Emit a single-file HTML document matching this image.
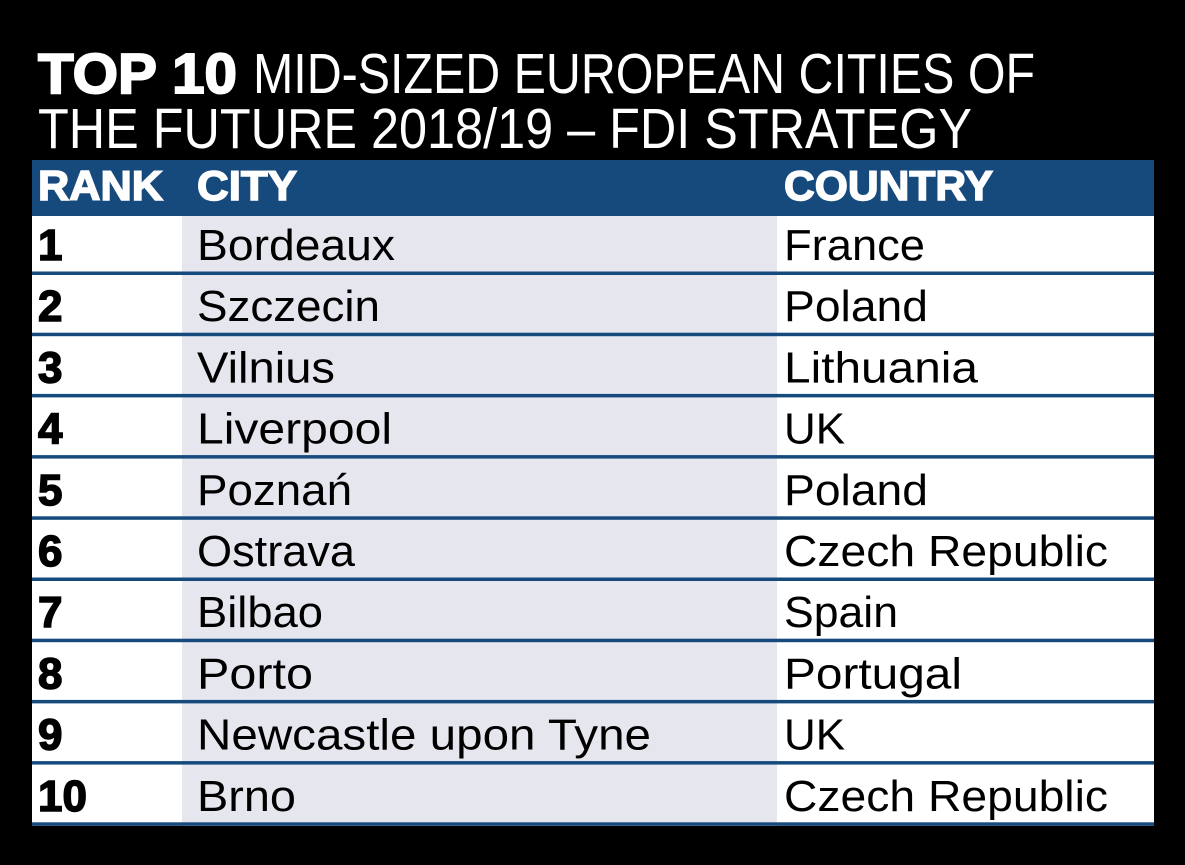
<!DOCTYPE html>
<html><head><meta charset="utf-8"><style>
html,body{margin:0;padding:0;background:#000;width:1185px;height:865px;overflow:hidden}
svg text{font-family:"Liberation Sans",sans-serif}
</style></head><body>
<svg width="1185" height="865" viewBox="0 0 1185 865" xmlns="http://www.w3.org/2000/svg">
<rect width="1185" height="865" fill="#000"/>
<text x="38" y="93" font-size="57" font-weight="900" fill="#fff" textLength="199" lengthAdjust="spacingAndGlyphs" stroke="#fff" stroke-width="2">TOP 10</text>
<text x="253" y="93" font-size="57" fill="#fff" textLength="782" lengthAdjust="spacingAndGlyphs">MID-SIZED EUROPEAN CITIES OF</text>
<text x="38" y="148" font-size="57" fill="#fff" textLength="934" lengthAdjust="spacingAndGlyphs">THE FUTURE 2018/19 – FDI STRATEGY</text>
<rect x="32" y="160" width="1122" height="56" fill="#164a7c"/>
<g font-size="42" font-weight="900" fill="#fff" stroke="#fff" stroke-width="1.5">
<text x="38" y="200" textLength="125" lengthAdjust="spacingAndGlyphs">RANK</text>
<text x="197" y="200" textLength="100" lengthAdjust="spacingAndGlyphs">CITY</text>
<text x="784" y="200" textLength="209" lengthAdjust="spacingAndGlyphs">COUNTRY</text>
</g>
<g id="rows"></g>
</svg>
<script>
var d=[["1","Bordeaux",198,"France",141],["2","Szczecin",183,"Poland",144],["3","Vilnius",138,"Lithuania",194],["4","Liverpool",195,"UK",61],["5","Poznań",155,"Poland",144],["6","Ostrava",158,"Czech Republic",324],["7","Bilbao",126,"Spain",114],["8","Porto",116,"Portugal",178],["9","Newcastle upon Tyne",454,"UK",61],["10","Brno",99,"Czech Republic",324]];
var g=document.getElementById('rows'),s='';
for(var i=0;i<10;i++){var y=216+61.2*i;var h=(i==9)?59:62;
s+='<rect x="32" y="'+y+'" width="1122" height="'+h+'" fill="#fff"/>';
s+='<rect x="182" y="'+y+'" width="595" height="'+h+'" fill="#e6e6ee"/>';
s+='<rect x="32" y="'+(y+55.5)+'" width="1122" height="3.5" fill="#164a7c"/>';
var b=y+44;
s+='<text x="38" y="'+b+'" font-size="44" font-weight="bold" fill="#000" stroke="#000" stroke-width="1.5">'+d[i][0]+'</text>';
s+='<text x="197" y="'+b+'" font-size="44" fill="#000" textLength="'+d[i][2]+'" lengthAdjust="spacingAndGlyphs">'+d[i][1]+'</text>';
s+='<text x="784" y="'+b+'" font-size="44" fill="#000" textLength="'+d[i][4]+'" lengthAdjust="spacingAndGlyphs">'+d[i][3]+'</text>';}
g.innerHTML=s;
</script>
</body></html>
